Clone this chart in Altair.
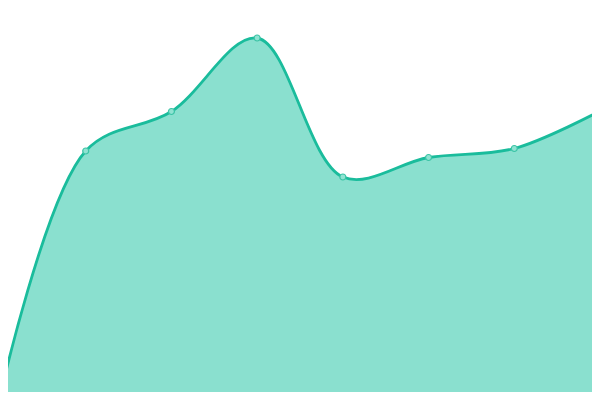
import altair as alt
import pandas as pd

xs = [0, 1, 2, 3, 4, 5, 6, 7]
values = [3, 249, 288.5, 362, 223, 242.5, 251.5, 289]

df = pd.DataFrame({"x": xs, "v": values})

# plot area sits at page 8..592 x 8..392; domains chosen so the full curve maps edge to edge
xenc = alt.X("x:Q", scale=alt.Scale(domain=[0.09333, 6.90667], nice=False, zero=False), axis=None)
yenc = alt.Y("v:Q", scale=alt.Scale(domain=[8, 392], nice=False, zero=False), axis=None)

base = alt.Chart(df)
area = base.mark_area(interpolate="catmull-rom", color="#8ae0cf", opacity=1, clip=True).encode(x=xenc, y=yenc)
line = base.mark_line(interpolate="catmull-rom", color="#1abc9c", strokeWidth=2.8, clip=True).encode(x=xenc, y=yenc)
pts = base.mark_point(filled=True, shape="circle", size=36, fill="#8fe3d2", stroke="#3cc4a6",
                      strokeWidth=1.2, opacity=1, clip=True).encode(x=xenc, y=yenc)

chart = (area + line + pts).properties(
    width=584, height=384,
    padding=0,
    autosize=alt.AutoSizeParams(type="fit", contains="padding"),
).configure_view(stroke=None)

chart.save("out.html", embed_options={"renderer": "svg", "actions": False})
